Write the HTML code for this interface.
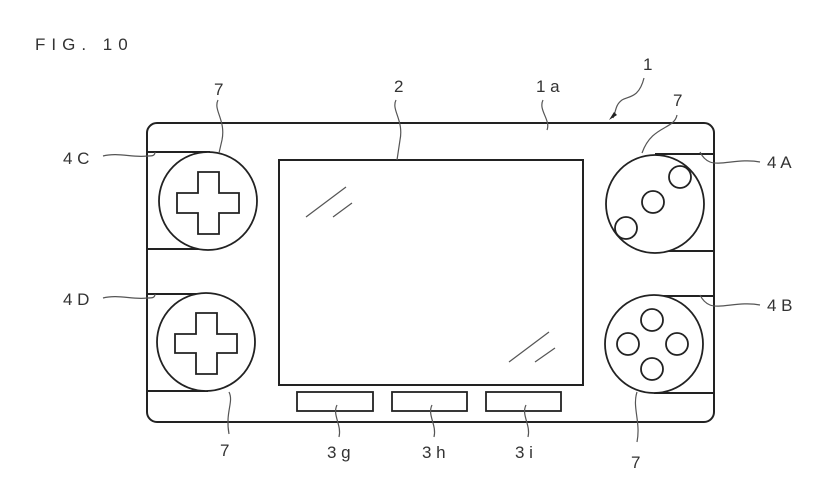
<!DOCTYPE html>
<html><head><style>body{margin:0;background:#fff}svg{display:block}text{font-family:"Liberation Sans",sans-serif;font-size:17px;fill:#333}</style></head><body>
<svg width="822" height="491" viewBox="0 0 822 491" xmlns="http://www.w3.org/2000/svg">
<g fill="none" stroke="#222" stroke-width="2">
<rect x="147" y="123" width="567" height="299" rx="10"/>
<rect x="279" y="160" width="304" height="225"/>
<line x1="147" y1="152" x2="210" y2="152"/><line x1="147" y1="249" x2="210" y2="249"/>
<line x1="147" y1="294" x2="208" y2="294"/><line x1="147" y1="391" x2="208" y2="391"/>
<line x1="655" y1="154" x2="714" y2="154"/><line x1="655" y1="251" x2="714" y2="251"/>
<line x1="654" y1="296" x2="714" y2="296"/><line x1="654" y1="393" x2="714" y2="393"/>
</g>
<g fill="#fff" stroke="#222" stroke-width="1.8">
<circle cx="208" cy="201" r="49"/><circle cx="206" cy="342" r="49"/>
<circle cx="655" cy="204" r="49"/><circle cx="654" cy="344" r="49"/>
<path d="M198 172h21v21h20v20h-20v21h-21v-21h-21v-20h21z"/>
<path d="M196 313h21v21h20v19h-20v21h-21v-21h-21v-19h21z"/>
<circle cx="680" cy="177" r="11"/><circle cx="653" cy="202" r="11"/><circle cx="626" cy="228" r="11"/>
<circle cx="652" cy="320" r="11"/><circle cx="628" cy="344" r="11"/><circle cx="677" cy="344" r="11"/><circle cx="652" cy="369" r="11"/>
<rect x="297" y="392" width="76" height="19"/><rect x="392" y="392" width="75" height="19"/><rect x="486" y="392" width="75" height="19"/>
</g>
<g fill="none" stroke="#555" stroke-width="1.2">
<line x1="306" y1="217" x2="346" y2="187"/><line x1="333" y1="217" x2="352" y2="203"/>
<line x1="509" y1="362" x2="549" y2="332"/><line x1="535" y1="362" x2="555" y2="348"/>
<path d="M218 100c-5 10 8 20 4 40l-3 13"/>
<path d="M396 100c-5 10 8 20 4 40l-3 20"/>
<path d="M543 100c-5 10 8 20 4 30"/>
<path d="M644 78c-5 20-15 18-22 22-7 5-6 12-9 18"/>
<path d="M677 115c-3 15-25 10-35 38"/>
<path d="M103 156c15-4 30 2 44 0 5 0 8 0 8-4"/>
<path d="M103 298c15-4 30 2 44 0 5 0 8 0 8-4"/>
<path d="M760 162c-20-4-40 4-50 0-5-2-8-6-10-10"/>
<path d="M760 305c-20-4-40 4-50 0-5-2-8-6-10-10"/>
<path d="M229 392c5 10-4 20 0 42"/>
<path d="M337 405c-5 10 5 20 2 32"/>
<path d="M432 405c-5 10 5 20 2 32"/>
<path d="M526 405c-5 10 5 20 2 32"/>
<path d="M637 392c-5 15 4 30 0 50"/>
</g>
<path d="M609 120l5-8 3 3z" fill="#222"/>
<text x="35" y="50" letter-spacing="6">FIG. 10</text>
<text x="214" y="95">7</text><text x="394" y="92">2</text><text x="536" y="92">1 a</text>
<text x="643" y="70">1</text><text x="673" y="106">7</text>
<text x="63" y="164">4 C</text><text x="63" y="305">4 D</text>
<text x="767" y="168">4 A</text><text x="767" y="311">4 B</text>
<text x="220" y="456">7</text><text x="327" y="458">3 g</text><text x="422" y="458">3 h</text><text x="515" y="458">3 i</text><text x="631" y="468">7</text>
</svg>
</body></html>
